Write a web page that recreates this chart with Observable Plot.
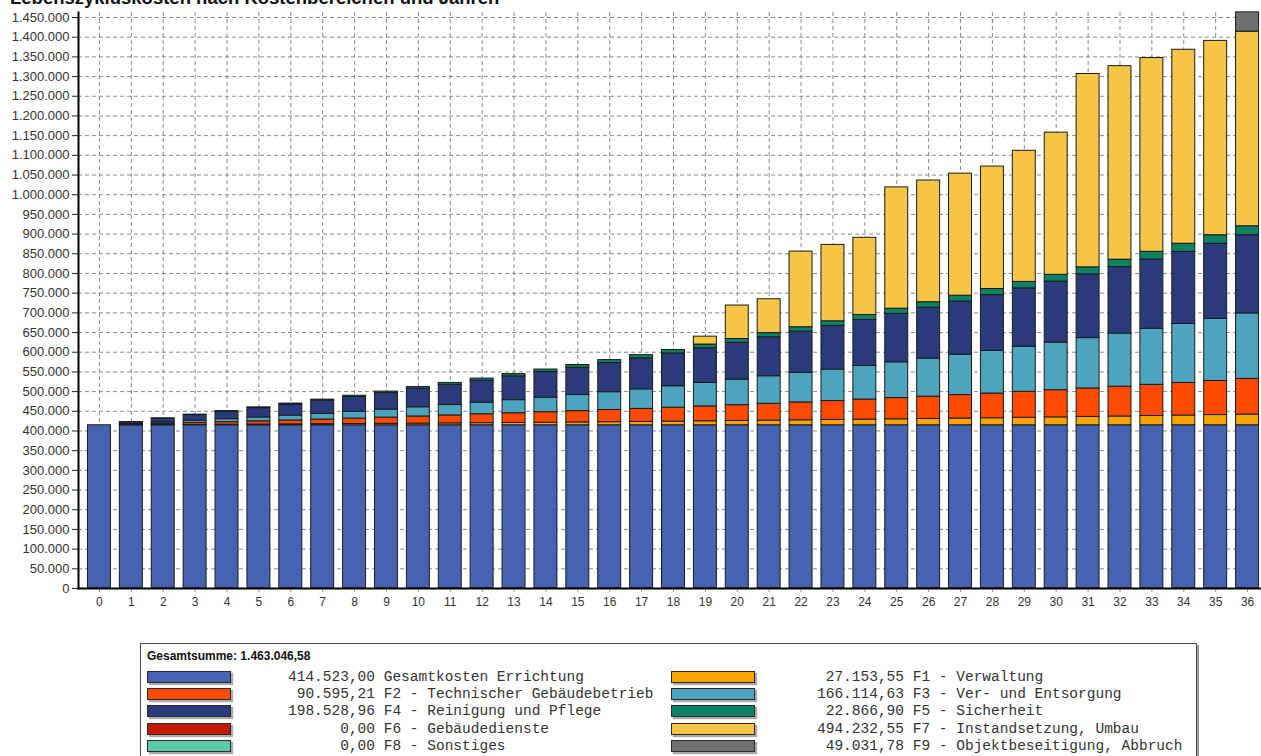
<!DOCTYPE html>
<html>
<head>
<meta charset="utf-8">
<script src="https://cdn.jsdelivr.net/npm/d3@7"></script>
<script src="https://cdn.jsdelivr.net/npm/@observablehq/plot@0.6"></script>
<style>
  html, body { margin: 0; padding: 0; background: #fff; overflow: hidden; }
  #wrap { position: relative; width: 1261px; height: 756px; overflow: hidden; background: #fff; }
  #title { position: absolute; left: 10px; top: -11px; font: bold 18.5px/18.5px "Liberation Sans", Arial, sans-serif; color: #111; white-space: nowrap; z-index: 2; }
  #chart { position: absolute; left: 0; top: 0; }
  #legend { position: absolute; left: 140px; top: 643px; width: 1055px; height: 130px; border: 1px solid #4a4a4a; box-shadow: 2px 2px 0 #9a9a9a; background: #fff; }
  #legend .head { position: absolute; left: 6px; top: 5px; font: bold 12px "Liberation Sans", Arial, sans-serif; color: #111; }
  #legend .sw { position: absolute; width: 82px; height: 10px; border: 1px solid #2a2a2a; box-shadow: 2px 2px 1px #aaa; }
  #legend .lab { position: absolute; font: 14.5px/14px "Liberation Mono", "DejaVu Sans Mono", monospace; white-space: pre; color: #333; }
</style>
</head>
<body>
<div id="wrap">
  <div id="title">Lebenszykluskosten nach Kostenbereichen und Jahren</div>
  <div id="chart"></div>
  <div id="legend"></div>
</div>
<script>
// ---- data (cumulative costs per year, EUR) ----
const years = ["0","1","2","3","4","5","6","7","8","9","10","11","12","13","14","15","16","17","18","19","20","21","22","23","24","25","26","27","28","29","30","31","32","33","34","35","36"];

const seriesNames = [
  "Gesamtkosten Errichtung",
  "F1 - Verwaltung",
  "F2 - Technischer Gebäudebetrieb",
  "F3 - Ver- und Entsorgung",
  "F4 - Reinigung und Pflege",
  "F5 - Sicherheit",
  "F6 - Gebäudedienste",
  "F7 - Instandsetzung, Umbau",
  "F8 - Sonstiges",
  "F9 - Objektbeseitigung, Abbruch"
];
const seriesTotals = [414523.00, 27153.55, 90595.21, 166114.63, 198528.96, 22866.90, 0.00, 494232.55, 0.00, 49031.78];
const colors = ["#4563b0", "#f7a300", "#ff4a00", "#4ca4bf", "#2b3a7a", "#0c8262", "#c41a00", "#f7c545", "#5ccaa8", "#707070"];

const errichtung = [414523,414523,414523,414523,414523,414523,414523,414523,414523,414523,414523,414523,414523,414523,414523,414523,414523,414523,414523,414523,414523,414523,414523,414523,414523,414523,414523,414523,414523,414523,414523,414523,414523,414523,414523,414523,414523];
const f1 = [0,320,710,1100,1490,1900,2330,2780,3240,3730,4280,4780,5330,5930,6550,7180,7860,8560,9320,10130,10950,11770,12570,13410,14280,15180,16090,17040,17990,19040,20060,21170,22290,23480,24660,25960,27153.55];
const f2 = [0,1360,3010,4690,6320,8070,9850,11760,13700,15770,18080,20230,22520,24580,26640,28670,30870,33040,35300,37700,40080,42770,45440,48130,50960,53810,56720,59650,62630,65810,68950,72300,75690,79200,82750,86510,90595.21];
const f3 = [0,1600,3580,5650,7690,9930,12250,14770,17390,20210,23370,26390,29630,33270,37040,40940,45260,49730,54490,59680,65040,69970,74950,79990,85400,90870,96560,102320,108300,114660,121090,127920,134980,142280,149830,157780,166114.63];
const f4 = [0,4400,9500,14460,19020,23700,28250,32920,37430,42050,47000,51310,55700,60370,64920,69320,74060,78660,83330,88270,93080,98980,104830,110620,116760,122840,129060,135180,141510,148110,154710,161600,168620,175760,183020,190590,198528.96];
const f5 = [0,320,710,1100,1490,1900,2330,2780,3240,3730,4280,4780,5330,5850,6370,6890,7450,8010,8600,9230,9860,10530,11210,11880,12600,13320,14060,14810,15570,16380,17190,18050,18920,19820,20750,21710,22866.90];
const f6 = [0,0,0,0,0,0,0,0,0,0,0,0,0,0,0,0,0,0,0,0,0,0,0,0,0,0,0,0,0,0,0,0,0,0,0,0,0];
const f7 = [0,0,0,0,0,0,0,0,0,0,0,0,0,0,0,0,0,0,0,20000,85000,86000,192000,194000,196000,308000,309000,310000,311000,333000,361000,491000,491500,492000,492500,493500,494232.55];
const f8 = [0,0,0,0,0,0,0,0,0,0,0,0,0,0,0,0,0,0,0,0,0,0,0,0,0,0,0,0,0,0,0,0,0,0,0,0,0];
const f9 = [0,0,0,0,0,0,0,0,0,0,0,0,0,0,0,0,0,0,0,0,0,0,0,0,0,0,0,0,0,0,0,0,0,0,0,0,49031.78];

const seriesValues = [errichtung, f1, f2, f3, f4, f5, f6, f7, f8, f9];
const yTicks = d3.range(0, 1450001, 50000);

// ---- build table ----
const data = [];
years.forEach((yr, i) => {
  seriesNames.forEach((s, j) => {
    const v = seriesValues[j][i];
    if (v > 0) data.push({year: yr, series: s, value: v});
  });
});

const de = d3.formatLocale({decimal: ",", thousands: ".", grouping: [3], currency: ["", " €"]});
const fmtInt = de.format(",.0f");
const fmt2 = de.format(",.2f");

const chart = Plot.plot({
  width: 1261,
  height: 625,
  marginLeft: 78,
  marginRight: 0,
  marginTop: 12,
  marginBottom: 37,
  x: {type: "band", domain: years, range: [83, 1263], paddingInner: 0.28, paddingOuter: 0.14, label: null},
  y: {domain: [0, 1450000], range: [588, 17], label: null},
  color: {domain: seriesNames, range: colors},
  style: {fontFamily: "'Liberation Sans', Arial, sans-serif", fontSize: "12px", color: "#333", background: "white", overflow: "visible"},
  marks: [
    Plot.gridY(yTicks, {stroke: "#8a8a8a", strokeOpacity: 1, strokeDasharray: "4,3"}),
    Plot.gridX(years, {stroke: "#8a8a8a", strokeOpacity: 1, strokeDasharray: "4,3"}),
    Plot.barY(data, {x: "year", y: "value", fill: "series", stroke: "#1a1a1a", strokeWidth: 1}),
    Plot.axisY(yTicks, {tickFormat: fmtInt, tickSize: 6, tickPadding: 3, fontSize: 13, stroke: "#222", label: null}),
    Plot.axisX(years, {tickSize: 4, tickPadding: 5, fontSize: 12, stroke: "#999", label: null}),
    Plot.frame({anchor: "left", stroke: "#000", strokeWidth: 2}),
    Plot.frame({anchor: "bottom", stroke: "#000", strokeWidth: 2})
  ]
});
document.getElementById("chart").appendChild(chart);

// ---- legend ----
const legend = document.getElementById("legend");
const total = d3.sum(seriesTotals);
const head = document.createElement("div");
head.className = "head";
head.textContent = "Gesamtsumme: " + fmt2(total);
legend.appendChild(head);

const rowTop = [27, 44, 61, 79, 96];
seriesNames.forEach((name, j) => {
  const row = Math.floor(j / 2), col = j % 2;
  const sw = document.createElement("div");
  sw.className = "sw";
  sw.style.background = colors[j];
  sw.style.left = (col === 0 ? 6 : 530) + "px";
  sw.style.top = rowTop[row] + "px";
  legend.appendChild(sw);
  const lab = document.createElement("div");
  lab.className = "lab";
  lab.textContent = fmt2(seriesTotals[j]).padStart(10, " ") + " " + name;
  lab.style.left = (col === 0 ? 147 : 676) + "px";
  lab.style.top = (rowTop[row] - 1) + "px";
  legend.appendChild(lab);
});
</script>
</body>
</html>
